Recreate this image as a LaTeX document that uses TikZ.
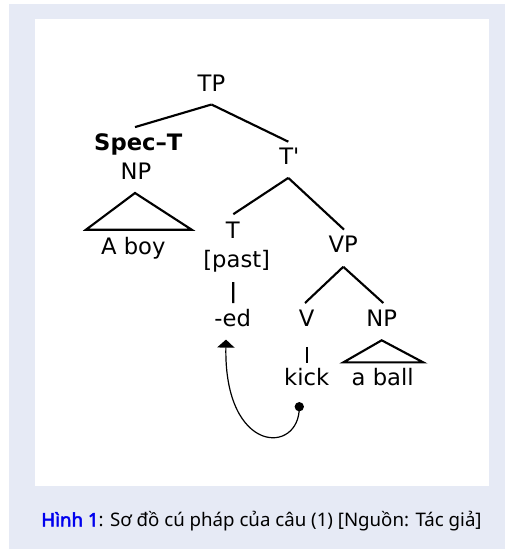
\documentclass[tikz,border=0pt]{standalone}
\usepackage{fontspec}
\newfontfamily\treefont{DejaVu Sans}
\newfontfamily\capfont{Noto Sans}
\newfontfamily\capboldfont{Noto Sans}[FakeBold=2.5]
\usetikzlibrary{calc,arrows.meta}
\definecolor{framebg}{RGB}{230,234,245}
\definecolor{capblue}{RGB}{0,0,238}
\tikzset{
  cat/.style={inner sep=0pt, text height=12.5pt, text depth=0pt,
    font=\treefont\fontsize{17}{20}\selectfont},
  branch/.style={line width=1.6pt},
}

\begin{document}
\begin{tikzpicture}[x=0.75pt, y=-0.75pt]
		\useasboundingbox (0,0) rectangle (505,549);
		\fill[framebg] (9,4) rectangle (505,549);
		\fill[white] (35,19) rectangle (489,486);
		%%%%%%%%%%%%%
		\node[cat] (tp) at (211.5, 83.3) {TP};
		\node[cat, font=\treefont\bfseries\fontsize{17}{20}\selectfont] (spect) at (138.3, 142) {Spec–T};
		\node[cat] (np1) at (136, 171) {NP};
		\node[cat] (aboy) at (133.3, 245.8) {A boy};
		\node[cat] (tbar) at (289.3, 156.3) {T'};
		\node[cat] (t) at (232.7, 230.5) {T};
		\node[cat] (past) at (236.7, 259.5) {[past]};
		\node[cat] (ed) at (232.7, 318.3) {-ed};
		\node[cat] (vp) at (343.3, 244.2) {VP};
		\node[cat] (v) at (306.7, 318.3) {V};
		\node[cat] (np2) at (381.7, 318.3) {NP};
		\node[cat] (kick) at (306.7, 376.7) {kick};
		\node[cat] (aball) at (382.7, 376.7) {a ball};
		\node[circle, fill, inner sep=0pt, minimum size=7pt] (trace) at (299.3, 406.7) {};
		\node[font=\capfont\fontsize{14}{16}\selectfont, anchor=base] (cap) at (261.5, 526.5)
			{\textcolor{capblue}{\capboldfont Hình 1}: Sơ đồ cú pháp của câu (1) [Nguồn: Tác giả]};
		%%%%%%%%%%%%%
		\draw[branch] ($(tp.south)+(0,12.6)$) -- ($(spect.north)+(-3.3,-6.3)$);
		\draw[branch] ($(tp.south)+(0,12.6)$) -- ($(tbar.north)+(-1,-6)$);
		\draw[branch] ($(tbar.south)+(-1,13)$) -- ($(t.north)+(0.6,-7.7)$);
		\draw[branch] ($(tbar.south)+(-1,13)$) -- ($(vp.north)+(0.7,-6)$);
		\draw[branch] ($(vp.south)+(0,14)$) -- ($(v.north)+(-1.7,-6.7)$);
		\draw[branch] ($(vp.south)+(0,14)$) -- ($(np2.north)+(1.6,-6.7)$);
		\draw[branch] ($(past.south)+(-3.4,14)$) -- ($(ed.north)+(0.6,-6.7)$);
		\draw[branch] ($(v.south)+(0,20)$) -- ($(kick.north)+(0,-5)$);
		\draw[branch, line join=miter] ($(np1.south)+(-1,13.4)$) -- ($(aboy.north)+(-47.3,-7.5)$)
			-- ($(aboy.north)+(58.4,-7.5)$) -- cycle;
		\draw[branch, line join=miter] ($(np2.south)+(0,13.4)$) -- ($(aball.north)+(-39.4,-5.7)$)
			-- ($(aball.north)+(40.6,-5.7)$) -- cycle;
		\draw[line width=0.9pt, -{Triangle[width=13pt, length=6pt]}] (trace.center)
			.. controls ($(trace.center)+(0.7,48.3)$) and ($(ed.south)+(-8.7,128.4)$) .. ($(ed.south)+(-6.7,12.7)$);
\end{tikzpicture}
\end{document}
